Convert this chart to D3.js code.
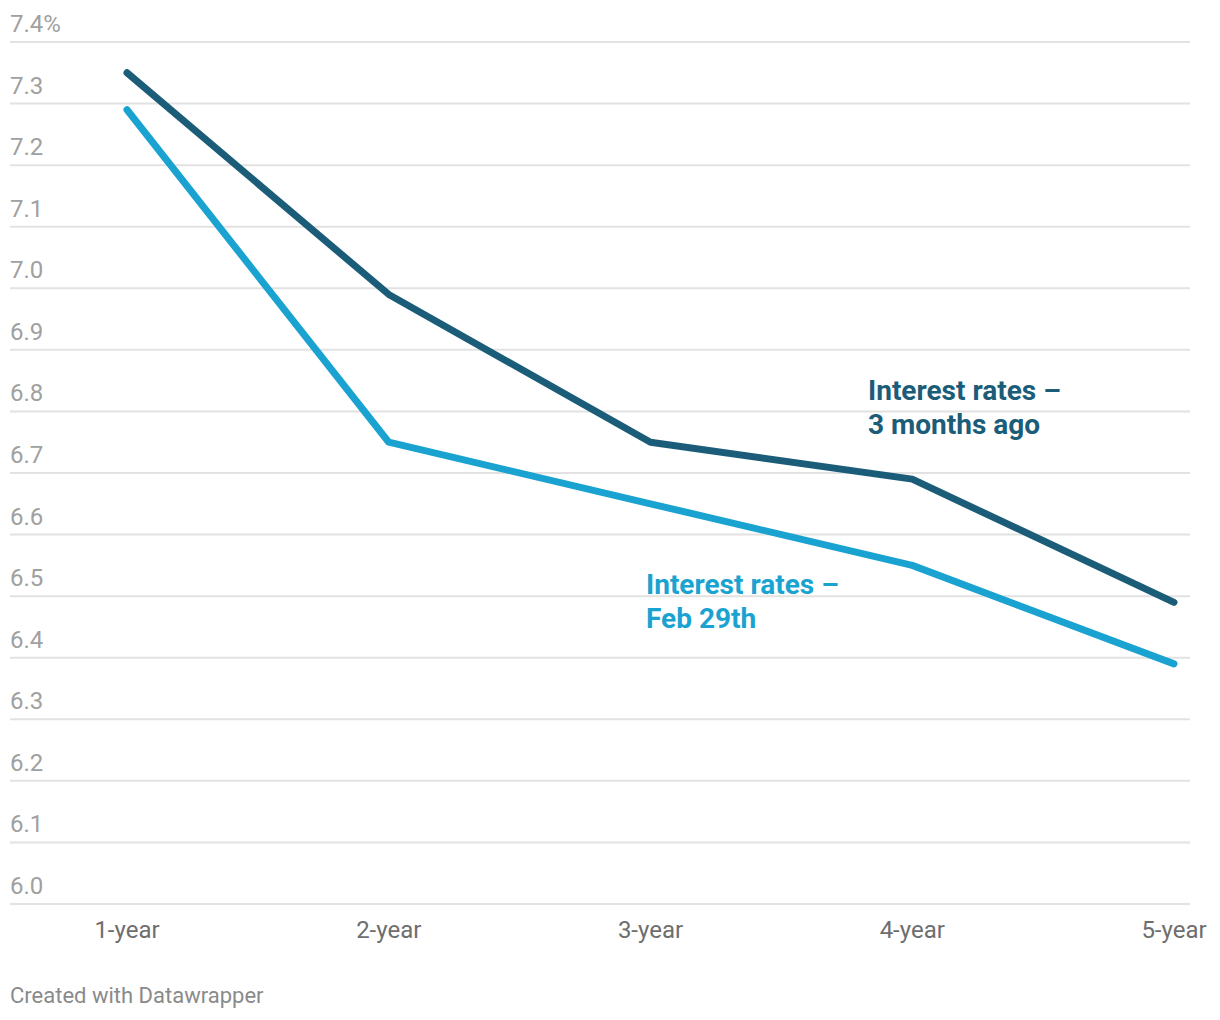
<!DOCTYPE html>
<html><head><meta charset="utf-8">
<script src="https://cdn.jsdelivr.net/npm/d3@7"></script>
<style>body{margin:0;background:#fff;font-family:Roboto,sans-serif}</style>
</head><body><svg id="c" width="1220" height="1020"></svg>
<script>
const categories = ["1-year","2-year","3-year","4-year","5-year"];
const threeMonthsAgo = [7.35, 6.99, 6.75, 6.69, 6.49];
const feb29 = [7.29, 6.75, 6.65, 6.55, 6.39];
const yTicks = [6.0,6.1,6.2,6.3,6.4,6.5,6.6,6.7,6.8,6.9,7.0,7.1,7.2,7.3,7.4];
const seriesNames = [["Interest rates –","3 months ago"],["Interest rates –","Feb 29th"]];

const svg = d3.select("#c");
const x = d3.scalePoint().domain(categories).range([127,1174]);
const y = d3.scaleLinear().domain([6.0,7.4]).range([904,42]);

const g = svg.append("g");
yTicks.forEach(t=>{
  g.append("line").attr("x1",10).attr("x2",1190).attr("y1",y(t)).attr("y2",y(t))
   .attr("stroke","#e2e2e2").attr("stroke-width",2);
  g.append("text").attr("x",10).attr("y",y(t)-10).text(t.toFixed(1)+(t===7.4?"%":""))
   .attr("fill","#a0a0a0").attr("font-size",24);
});
categories.forEach(c=>{
  g.append("text").attr("x",x(c)).attr("y",938).attr("text-anchor","middle")
   .attr("fill","#6e6e6e").attr("font-size",24).text(c);
});
const line = d3.line().x((d,i)=>x(categories[i])).y(d=>y(d));
const colors = ["#1b5d78","#1aa3d0"];
[threeMonthsAgo, feb29].forEach((s,i)=>{
  svg.append("path").attr("d",line(s)).attr("fill","none").attr("stroke",colors[i])
   .attr("stroke-width",7).attr("stroke-linecap","round").attr("stroke-linejoin","round");
});
const lbl = [[868,400],[646,594]];
seriesNames.forEach((n,i)=>{
  const t = svg.append("text").attr("x",lbl[i][0]).attr("y",lbl[i][1]).attr("fill",colors[i])
    .attr("font-size",28).attr("font-weight",700);
  n.forEach((s,j)=>t.append("tspan").attr("x",lbl[i][0]).attr("dy",j?34:0).text(s));
});
svg.append("text").attr("x",10).attr("y",1003).attr("fill","#8a8a8a").attr("font-size",22)
  .text("Created with Datawrapper");
</script></body></html>
